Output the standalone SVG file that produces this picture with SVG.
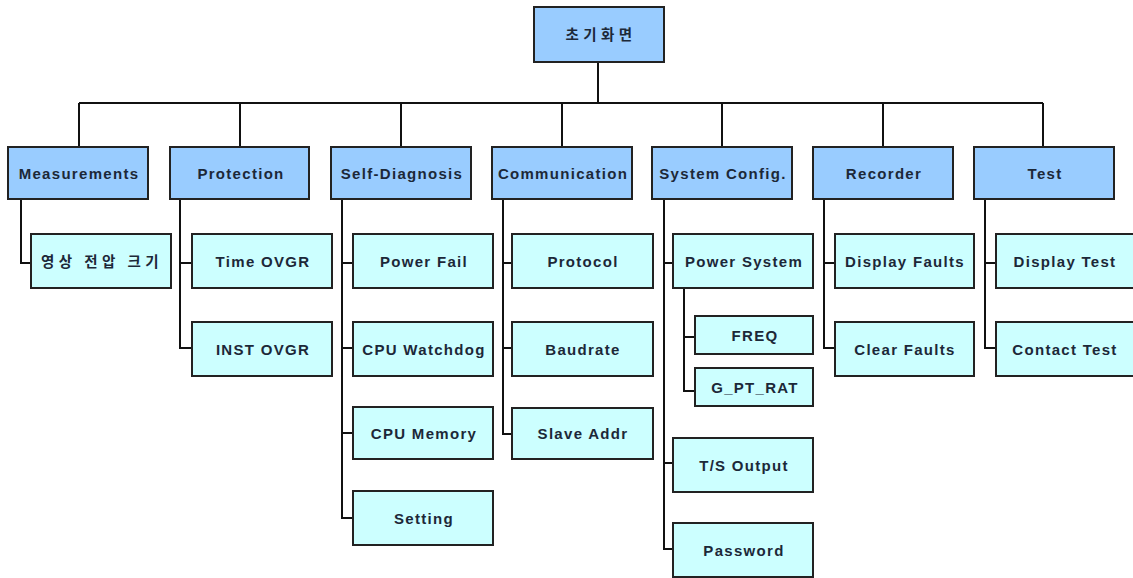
<svg xmlns="http://www.w3.org/2000/svg" width="1133" height="578" viewBox="0 0 1133 578">
<style>
.top rect{fill:#99ccff;stroke:#222;stroke-width:2}
.sub rect{fill:#ccffff;stroke:#222;stroke-width:2}
text{font-family:"Liberation Sans","Noto Sans CJK KR",sans-serif;font-size:15px;font-weight:bold;fill:#1c2838;text-anchor:middle;letter-spacing:1.3px}
text.ko{font-family:"Noto Sans CJK KR",sans-serif;font-size:14.5px;letter-spacing:4.4px}
.c{fill:none;stroke:#111;stroke-width:2}
</style>
<rect width="1133" height="578" fill="#ffffff"/>
<g id="connectors" class="c">
<path d="M598,62V103M79,103H1043M79,103V147M240,103V147M401,103V147M562,103V147M722,103V147M883,103V147M1043,103V147"/>
<path d="M21,199V263H31"/>
<path d="M180,199V348H192M180,263H192"/>
<path d="M342,199V518H353M342,263H353M342,348H353M342,433H353"/>
<path d="M503,199V434H512M503,263H512M503,348H512"/>
<path d="M664,199V549H673M664,263H673M664,463H673"/>
<path d="M684,288V391H695M684,337H695"/>
<path d="M824,199V348H835M824,263H835"/>
<path d="M985,199V348H996M985,263H996"/>
</g>
<g id="root" class="top"><rect x="534" y="7" width="130" height="55"/><text class="ko" x="601" y="40">초기화면</text></g>
<g id="measurements" class="top"><rect x="8" y="147" width="140" height="52"/><text x="79" y="179">Measurements</text></g>
<g id="protection" class="top"><rect x="170" y="147" width="139" height="52"/><text x="241" y="179">Protection</text></g>
<g id="self-diagnosis" class="top"><rect x="331" y="147" width="140" height="52"/><text x="402" y="179">Self-Diagnosis</text></g>
<g id="communication" class="top"><rect x="492" y="147" width="140" height="52"/><text x="563" y="179">Communication</text></g>
<g id="system-config" class="top"><rect x="652" y="147" width="140" height="52"/><text x="723" y="179">System Config.</text></g>
<g id="recorder" class="top"><rect x="813" y="147" width="140" height="52"/><text x="884" y="179">Recorder</text></g>
<g id="test" class="top"><rect x="974" y="147" width="140" height="52"/><text x="1045" y="179">Test</text></g>
<g id="phase-voltage" class="sub"><rect x="31" y="234" width="140" height="54"/><text class="ko" x="102" y="267">영상 전압 크기</text></g>
<g id="time-ovgr" class="sub"><rect x="192" y="234" width="140" height="54"/><text x="263" y="267">Time OVGR</text></g>
<g id="inst-ovgr" class="sub"><rect x="192" y="322" width="140" height="54"/><text x="263" y="355">INST OVGR</text></g>
<g id="power-fail" class="sub"><rect x="353" y="234" width="140" height="54"/><text x="424" y="267">Power Fail</text></g>
<g id="cpu-watchdog" class="sub"><rect x="353" y="322" width="140" height="54"/><text x="424" y="355">CPU Watchdog</text></g>
<g id="cpu-memory" class="sub"><rect x="353" y="407" width="140" height="52"/><text x="424" y="439">CPU Memory</text></g>
<g id="setting" class="sub"><rect x="353" y="491" width="140" height="54"/><text x="424" y="524">Setting</text></g>
<g id="protocol" class="sub"><rect x="512" y="234" width="141" height="54"/><text x="583" y="267">Protocol</text></g>
<g id="baudrate" class="sub"><rect x="512" y="322" width="141" height="54"/><text x="583" y="355">Baudrate</text></g>
<g id="slave-addr" class="sub"><rect x="512" y="408" width="141" height="51"/><text x="583" y="439">Slave Addr</text></g>
<g id="power-system" class="sub"><rect x="673" y="234" width="140" height="54"/><text x="744" y="267">Power System</text></g>
<g id="freq" class="sub"><rect x="695" y="316" width="118" height="38"/><text x="755" y="341">FREQ</text></g>
<g id="g-pt-rat" class="sub"><rect x="695" y="368" width="118" height="38"/><text x="755" y="393">G_PT_RAT</text></g>
<g id="ts-output" class="sub"><rect x="673" y="438" width="140" height="54"/><text x="744" y="471">T/S Output</text></g>
<g id="password" class="sub"><rect x="673" y="523" width="140" height="54"/><text x="744" y="556">Password</text></g>
<g id="display-faults" class="sub"><rect x="835" y="234" width="139" height="54"/><text x="905" y="267">Display Faults</text></g>
<g id="clear-faults" class="sub"><rect x="835" y="322" width="139" height="54"/><text x="905" y="355">Clear Faults</text></g>
<g id="display-test" class="sub"><rect x="996" y="234" width="140" height="54"/><text x="1065" y="267">Display Test</text></g>
<g id="contact-test" class="sub"><rect x="996" y="322" width="140" height="54"/><text x="1065" y="355">Contact Test</text></g>
</svg>
